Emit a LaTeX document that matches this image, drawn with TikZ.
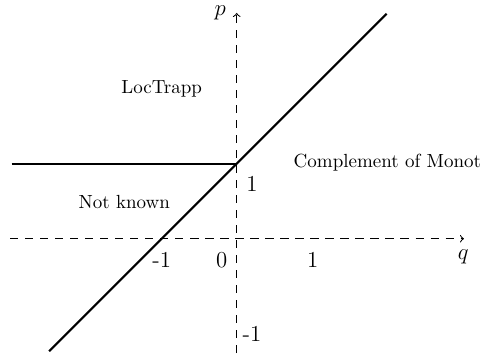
\documentclass[tikz,border=0pt]{standalone}
\begin{document}
\begin{tikzpicture}[x=39.47pt,y=39.47pt,
  axis/.style={dash pattern=on 4.3pt off 3.6pt,->,line width=0.55pt},
  curve/.style={line width=1.1pt},
  region/.style={font=\normalsize},
  tick/.style={font=\large}]
\useasboundingbox (-3.156,-1.564) rectangle (3.284,3.183);
% axes
\coordinate (qstart) at (-3.02,0);
\coordinate (qend) at (3.03,0);
\coordinate (pstart) at (0,-1.524);
\coordinate (pend) at (0,3.01);
\draw[axis] (qstart) -- (qend);
\draw[axis] (pstart) -- (pend);
\node[font=\large,inner sep=0pt] (qlab) at (3.02,-0.24) {$q$};
\node[font=\large,inner sep=0pt] (plab) at (-0.22,3.01) {$p$};
% curves
\coordinate (c) at (0,1);
\coordinate (hl) at (-3.0,1);
\coordinate (d1) at (-2.5,-1.5);
\coordinate (d2) at (2,3);
\draw[curve] (hl) -- (c);
\draw[curve] (d1) -- (d2);
% region labels
\node[region] (loc) at (-1.0,2.0) {LocTrapp};
\node[region] (nk) at (-1.5,0.49) {Not known};
\node[region,anchor=west,inner sep=0pt] (cm) at (0.755,1.02) {Complement of Monot};
% ticks
\node[tick] (tm1) at (-1,-0.284) {-1};
\node[tick] (t0) at (-0.2,-0.284) {0};
\node[tick] (t1) at (1.015,-0.284) {1};
\node[tick] (pt1) at (0.204,0.73) {1};
\node[tick] (ptm1) at (0.204,-1.27) {-1};
\end{tikzpicture}
\end{document}
